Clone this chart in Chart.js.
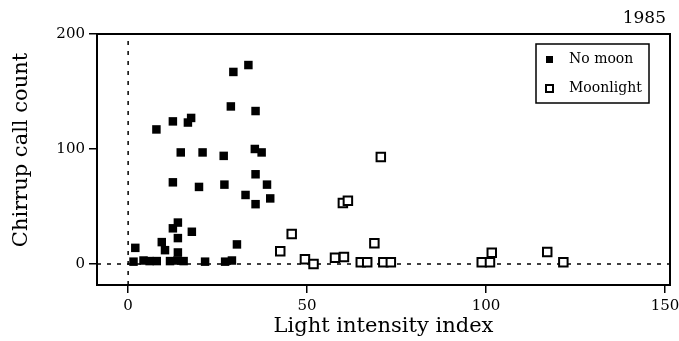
<!DOCTYPE html>
<html>
<head>
<meta charset="utf-8">
<script src="https://cdn.jsdelivr.net/npm/chart.js@4.4.1/dist/chart.umd.min.js"></script>
<style>
    html, body { margin: 0; padding: 0; background: #fff; }
</style>
</head>
<body>
<canvas id="grafico" width="679" height="341"></canvas>
<script>
// datos
const noMoonX = [2, 1.5, 4.3, 6, 8, 7.9, 9.4, 10.3, 11.7, 12.5, 12.5, 12.5, 13.9, 13.9, 13.9, 13.8, 15.5, 14.7, 16.7, 17.6,
    17.8, 19.8, 20.8, 21.5, 26.7, 26.9, 27.1, 28.7, 29, 29.4, 30.4, 32.8, 33.6, 35.6, 35.4, 35.6, 35.6, 37.3, 38.8, 39.7];
const noMoonY = [14, 2, 3, 2.5, 2.5, 117, 19, 12, 2.5, 124, 71, 31, 36, 22.5, 10, 3, 2.5, 97, 123, 127,
    28, 67, 97, 2, 94, 69, 2, 137, 3, 167, 17, 60, 173, 133, 100, 78, 52, 97, 69, 57];
const moonX = [42.5, 45.7, 49.4, 51.8, 57.8, 60, 60.3, 61.4, 65, 66.8, 68.8, 70.6, 71.3, 73.4, 98.8, 101.1, 101.6, 117.1, 121.6];
const moonY = [11, 26, 4, 0, 5.5, 53, 6, 55, 1.5, 1.5, 18, 93, 1.5, 1.5, 1.5, 1.5, 9.8, 10.4, 1.5];
const xTicks = [0, 50, 100, 150];
const yTicks = [0, 100, 200];
const nombresSeries = ['No moon', 'Moonlight'];
const etiquetaAnio = '1985';
const tituloY = 'Chirrup call count';
const tituloX = 'Light intensity index';

const FUENTE = '"DejaVu Serif", "Liberation Serif", serif';
const X_MIN = -8.7, X_MAX = 151.4, Y_MIN = -18.3, Y_MAX = 200;

function puntos(xs, ys) {
    let res = [];
    for (let i = 0; i < xs.length; i++) {
        res.push({x: xs[i], y: ys[i]});
    }
    return res;
}

// marco, leyenda, titulo Y y año
const extras = {
    id: 'extras',
    afterDraw(chart) {
        const ctx = chart.ctx;
        const a = chart.chartArea;
        ctx.save();
        ctx.strokeStyle = '#000';
        ctx.lineWidth = 2;
        ctx.strokeRect(a.left, a.top, a.right - a.left, a.bottom - a.top);

        // leyenda
        ctx.lineWidth = 1.5;
        ctx.fillStyle = '#fff';
        ctx.fillRect(536, 44, 113, 59);
        ctx.strokeRect(536, 44, 113, 59);
        ctx.fillStyle = '#000';
        ctx.fillRect(546, 56, 7, 7);
        ctx.lineWidth = 2;
        ctx.strokeRect(546, 85, 7, 7);
        ctx.font = '14px ' + FUENTE;
        ctx.textAlign = 'left';
        ctx.textBaseline = 'middle';
        ctx.fillText(nombresSeries[0], 569, 59);
        ctx.fillText(nombresSeries[1], 569, 88);

        ctx.font = '17px ' + FUENTE;
        ctx.textAlign = 'right';
        ctx.fillText(etiquetaAnio, 666, 19);

        // titulo del eje Y
        ctx.translate(22, 150);
        ctx.rotate(-Math.PI / 2);
        ctx.font = '21px ' + FUENTE;
        ctx.textAlign = 'center';
        ctx.fillText(tituloY, 0, 0);
        ctx.restore();
    }
};

const ctx = document.getElementById('grafico');
const grafico = new Chart(ctx, {
    type: 'scatter',
    data: {
        datasets: [
            {
                label: nombresSeries[0],
                data: puntos(noMoonX, noMoonY),
                pointStyle: 'rect',
                pointRadius: 6,
                backgroundColor: '#000',
                borderColor: '#000',
                borderWidth: 0
            },
            {
                label: nombresSeries[1],
                data: puntos(moonX, moonY),
                pointStyle: 'rect',
                pointRadius: 6,
                backgroundColor: '#fff',
                borderColor: '#000',
                borderWidth: 2
            },
            {
                type: 'line',
                data: [{x: 0, y: Y_MIN}, {x: 0, y: Y_MAX}],
                borderColor: '#000',
                borderWidth: 1.5,
                borderDash: [4, 6],
                pointRadius: 0,
                order: 5
            },
            {
                type: 'line',
                data: [{x: X_MIN, y: 0}, {x: X_MAX, y: 0}],
                borderColor: '#000',
                borderWidth: 1.5,
                borderDash: [4, 6],
                pointRadius: 0,
                order: 5
            }
        ]
    },
    options: {
        responsive: false,
        animation: false,
        layout: {padding: {top: 34, right: 9, left: 0, bottom: 0}},
        plugins: {
            legend: {display: false},
            tooltip: {enabled: false}
        },
        scales: {
            x: {
                type: 'linear',
                min: X_MIN,
                max: X_MAX,
                afterBuildTicks: (scale) => { scale.ticks = xTicks.map(v => ({value: v})); },
                afterFit: (scale) => {
                    scale.height = 56;
                    scale.paddingLeft = 0;
                    scale.paddingRight = 0;
                },
                border: {display: true, color: '#000', width: 2},
                grid: {drawOnChartArea: false, drawTicks: true, tickLength: 8, color: '#000', lineWidth: 1.5},
                ticks: {color: '#000', padding: 4, maxRotation: 0, font: {family: FUENTE, size: 15}},
                title: {
                    display: true,
                    text: tituloX,
                    color: '#000',
                    font: {family: FUENTE, size: 21},
                    padding: {top: 0, bottom: 2}
                }
            },
            y: {
                type: 'linear',
                min: Y_MIN,
                max: Y_MAX,
                afterBuildTicks: (scale) => { scale.ticks = yTicks.map(v => ({value: v})); },
                afterFit: (scale) => { scale.width = 97; },
                border: {display: true, color: '#000', width: 2},
                grid: {drawOnChartArea: false, drawTicks: true, tickLength: 8, color: '#000', lineWidth: 1.5},
                ticks: {color: '#000', padding: 4, font: {family: FUENTE, size: 15}},
                title: {display: false}
            }
        }
    },
    plugins: [extras]
});
</script>
</body>
</html>
